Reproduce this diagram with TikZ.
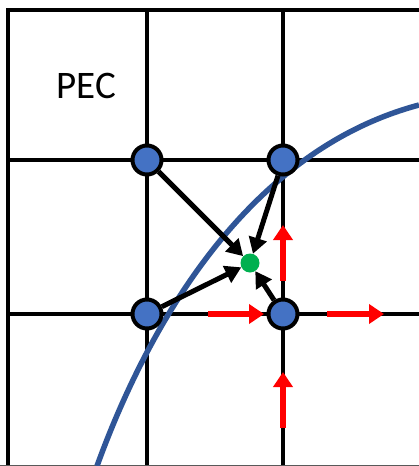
\documentclass[tikz,border=0pt]{standalone}
\usepackage{fontspec}
\setmainfont{Carlito}
\usetikzlibrary{arrows.meta, positioning}
\definecolor{nodeblue}{HTML}{4472C4}
\definecolor{curveblue}{HTML}{2F5597}
\definecolor{probe}{HTML}{00B050}
\definecolor{edgegray}{HTML}{595959}
\tikzset{
  grid/.style={draw=black, line width=4pt},
  sample/.style={circle, draw=black, fill=nodeblue, line width=4pt, minimum size=29pt, inner sep=0pt},
  target/.style={circle, fill=probe, minimum size=19pt, inner sep=0pt},
  interp/.style={draw=black, line width=5pt, -{Triangle[length=16pt, width=18pt]}},
  field/.style={draw=red, line width=6pt, -{Triangle[length=15pt, width=19pt]}},
}

\begin{document}
\begin{tikzpicture}[x=1pt, y=-1pt]
\useasboundingbox (0,0) rectangle (419,466);
\fill[white] (0,0) rectangle (419,466);
\draw[grid] (6,10) -- (419,10);
\draw[grid] (6,160) -- (419,160);
\draw[grid] (6,314) -- (419,314);
\draw[grid] (8,8) -- (8,466);
\draw[grid] (147,8) -- (147,466);
\draw[grid] (283,8) -- (283,466);
\draw[edgegray, line width=1pt] (0,465.5) -- (419,465.5);
\node[font=\fontsize{39}{41}\selectfont] (pec) at (86,86) {PEC};
\draw[curveblue, line width=5.5pt] (97,466) .. controls (150,320) and (250,150) .. (419,105);
\draw[field] (208,314) -- (264,314);
\draw[field] (327,314) -- (384,314);
\draw[field] (283,428) -- (283,372);
\draw[field] (283,281) -- (283,225);
\node[sample] (tl) at (147,160) {};
\node[sample] (tr) at (283,160) {};
\node[sample] (bl) at (147,314) {};
\node[sample] (br) at (283,314) {};
\node[target] (g) at (250,263) {};
\draw[interp] (tl) -- (g);
\draw[interp] (tr) -- (g);
\draw[interp] (bl) -- (g);
\draw[interp] (br) -- (g);
\end{tikzpicture}
\end{document}
